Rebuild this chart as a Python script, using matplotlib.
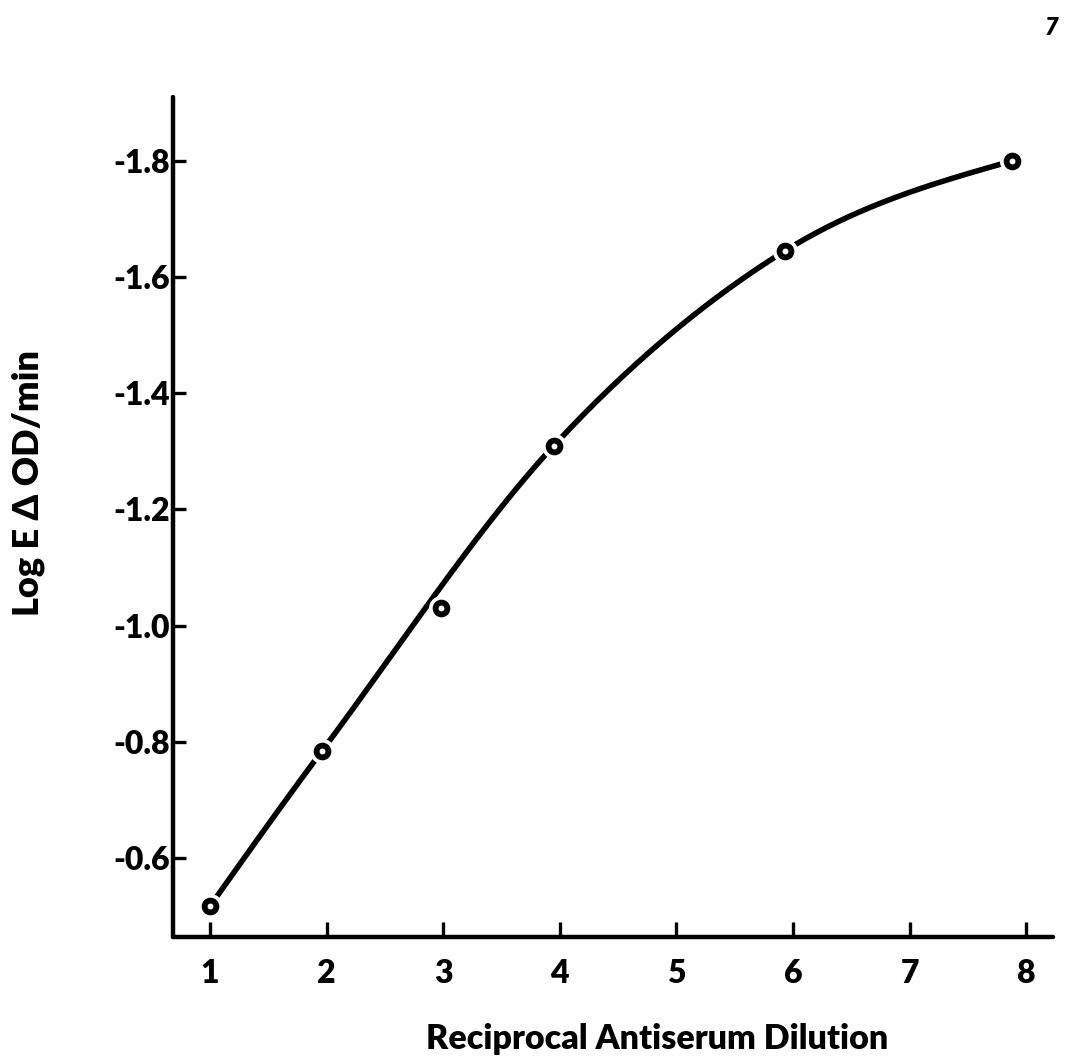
import numpy as np
import matplotlib
matplotlib.use("Agg")
import matplotlib.pyplot as plt

# values
dilution = [1.0, 1.96, 2.98, 3.95, 5.93, 7.88]
log_rate = [-0.517, -0.784, -1.03, -1.31, -1.645, -1.80]
x_ticks = [1, 2, 3, 4, 5, 6, 7, 8]
y_ticks = [-0.6, -0.8, -1.0, -1.2, -1.4, -1.6, -1.8]

# the hand-drawn curve runs just above the point at 3, so leave it out of the fit
curve_pts = [0, 1, 3, 4, 5]


def smooth(x, y, n=300):
    """Hermite curve (Catmull-Rom tangents) through the points, for drawing."""
    x = np.asarray(x, float)
    y = np.asarray(y, float)
    h = np.diff(x)
    k = len(x)
    sec = np.diff(y) / h
    d = np.zeros(k)
    d[1:-1] = (y[2:] - y[:-2]) / (x[2:] - x[:-2])
    d[0] = (3 * sec[0] - d[1]) / 2
    d[-1] = (3 * sec[-1] - d[-2]) / 2
    xs = np.linspace(x[0], x[-1], n)
    j = np.clip(np.searchsorted(x, xs) - 1, 0, k - 2)
    t = (xs - x[j]) / h[j]
    h00 = 2 * t ** 3 - 3 * t ** 2 + 1
    h10 = t ** 3 - 2 * t ** 2 + t
    h01 = -2 * t ** 3 + 3 * t ** 2
    h11 = t ** 3 - t ** 2
    ys = h00 * y[j] + h10 * h[j] * d[j] + h01 * y[j + 1] + h11 * h[j] * d[j + 1]
    return xs, ys


plt.rcParams['font.family'] = ['Lato', 'DejaVu Sans']
plt.rcParams['font.weight'] = 'heavy'

fig = plt.figure(figsize=(10.71, 10.61), dpi=100)
ax = fig.add_axes([0.1615, 0.1169, 0.8217, 0.7917])

xs, ys = smooth([dilution[i] for i in curve_pts], [log_rate[i] for i in curve_pts])
ax.plot(xs, ys, color='black', lw=4.0, solid_capstyle='round', zorder=2)
# white halo so the line stops short of each circle
ax.plot(dilution, log_rate, 'o', ms=18, mfc='white', mec='none', zorder=3)
ax.plot(dilution, log_rate, 'o', ms=8.5, mfc='white', mec='black', mew=4.2, zorder=4)

ax.set_xlim(0.683, 8.23)
ax.set_ylim(-0.464, -1.91)

for s in ['top', 'right']:
    ax.spines[s].set_visible(False)
for s in ['left', 'bottom']:
    ax.spines[s].set_linewidth(3.2)
    ax.spines[s].set_capstyle('round')

ax.set_xticks(x_ticks)
ax.set_xticklabels([str(v) for v in x_ticks])
ax.set_yticks(y_ticks)
ax.set_yticklabels(['%.1f' % v for v in y_ticks])
ax.tick_params(axis='x', direction='in', length=11, width=2.4, pad=16, labelsize=23)
ax.tick_params(axis='y', direction='in', length=9, width=2.4, pad=2, labelsize=23)
for lab in ax.get_xticklabels() + ax.get_yticklabels():
    lab.set_fontweight('heavy')

ax.set_xlabel('Reciprocal Antiserum Dilution', fontsize=24.5, fontweight='heavy')
ax.xaxis.set_label_coords(0.55, -0.103)
ax.set_ylabel('Log E \u0394 OD/min', fontsize=26, fontweight='heavy')
ax.yaxis.set_label_coords(-0.145, 0.54)

fig.text(0.988, 0.985, '7', fontsize=17, fontweight='heavy', style='italic',
         ha='right', va='top')

fig.savefig('out.png', dpi=100)
